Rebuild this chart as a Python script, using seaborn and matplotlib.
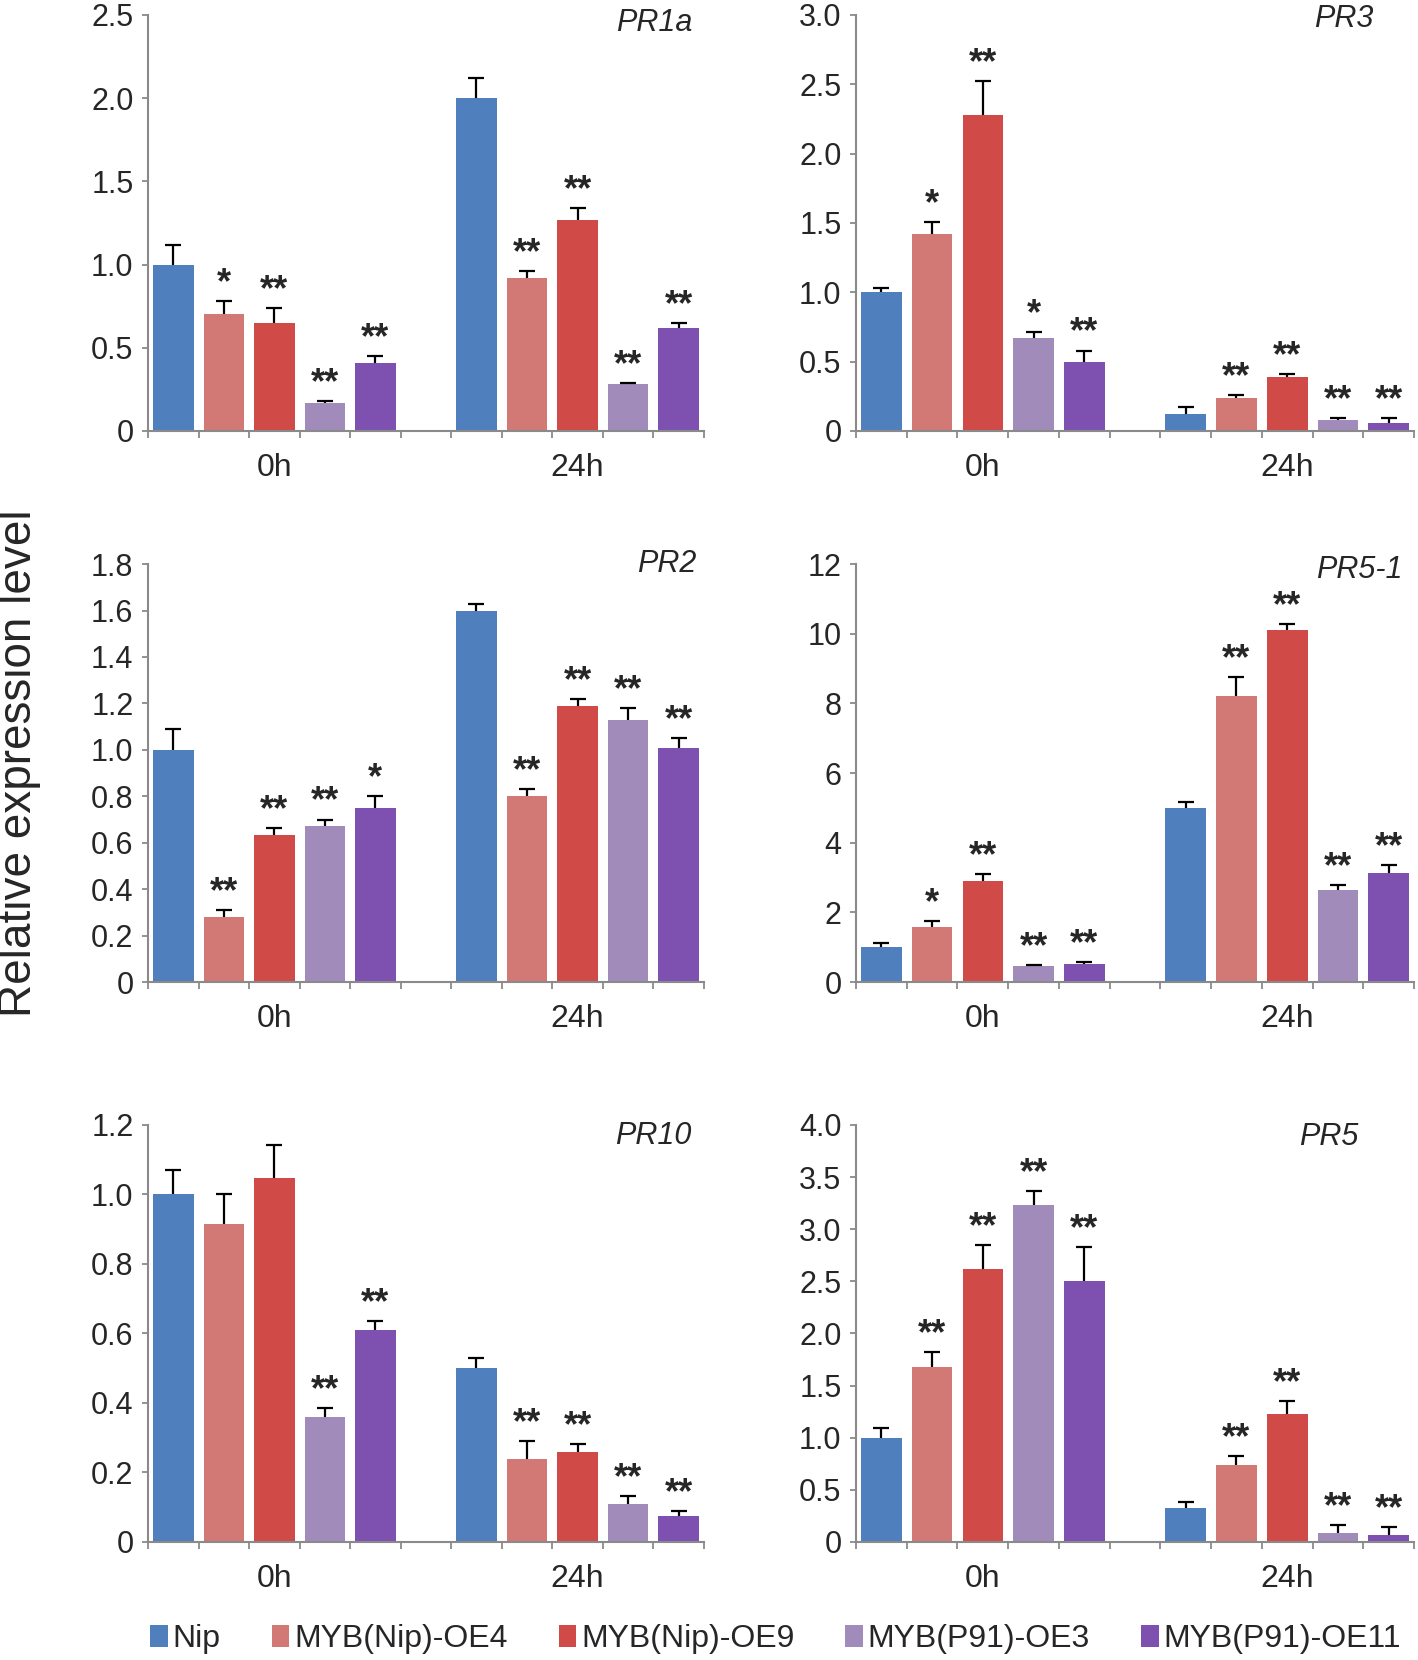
import numpy as np
import pandas as pd
import matplotlib
matplotlib.use("Agg")
import matplotlib.pyplot as plt
import seaborn as sns
from matplotlib.patches import Patch

sns.set_style("ticks")
plt.rcParams['font.family'] = ['Liberation Sans', 'DejaVu Sans']

# linie i czasy
lines = ['Nip', 'MYB(Nip)-OE4', 'MYB(Nip)-OE9', 'MYB(P91)-OE3', 'MYB(P91)-OE11']
colors = ['#4F7FBC', '#D27875', '#D04A47', '#A18BBB', '#7E51B1']
times = ['0h', '24h']

# PR1a
pr1a_mean = [[1.00, 0.70, 0.65, 0.17, 0.41], [2.00, 0.92, 1.27, 0.28, 0.62]]
pr1a_err = [[0.12, 0.08, 0.09, 0.01, 0.04], [0.12, 0.04, 0.07, 0.01, 0.03]]
pr1a_sig = [['', '*', '**', '**', '**'], ['', '**', '**', '**', '**']]
pr1a_ticks = [0, 0.5, 1.0, 1.5, 2.0, 2.5]

# PR3
pr3_mean = [[1.00, 1.42, 2.28, 0.67, 0.50], [0.12, 0.24, 0.39, 0.08, 0.06]]
pr3_err = [[0.03, 0.09, 0.24, 0.04, 0.08], [0.05, 0.02, 0.02, 0.01, 0.03]]
pr3_sig = [['', '*', '**', '*', '**'], ['', '**', '**', '**', '**']]
pr3_ticks = [0, 0.5, 1.0, 1.5, 2.0, 2.5, 3.0]

# PR2
pr2_mean = [[1.00, 0.28, 0.635, 0.67, 0.75], [1.60, 0.80, 1.19, 1.13, 1.01]]
pr2_err = [[0.09, 0.03, 0.03, 0.03, 0.05], [0.03, 0.03, 0.03, 0.05, 0.04]]
pr2_sig = [['', '**', '**', '**', '*'], ['', '**', '**', '**', '**']]
pr2_ticks = [0, 0.2, 0.4, 0.6, 0.8, 1.0, 1.2, 1.4, 1.6, 1.8]

# PR5-1
pr51_mean = [[1.00, 1.57, 2.90, 0.45, 0.53], [5.00, 8.20, 10.12, 2.65, 3.12]]
pr51_err = [[0.12, 0.17, 0.20, 0.03, 0.05], [0.18, 0.55, 0.15, 0.13, 0.25]]
pr51_sig = [['', '*', '**', '**', '**'], ['', '**', '**', '**', '**']]
pr51_ticks = [0, 2, 4, 6, 8, 10, 12]

# PR10
pr10_mean = [[1.00, 0.915, 1.048, 0.36, 0.61], [0.50, 0.24, 0.26, 0.11, 0.075]]
pr10_err = [[0.07, 0.085, 0.095, 0.025, 0.025], [0.03, 0.05, 0.022, 0.022, 0.013]]
pr10_sig = [['', '', '', '**', '**'], ['', '**', '**', '**', '**']]
pr10_ticks = [0, 0.2, 0.4, 0.6, 0.8, 1.0, 1.2]

# PR5
pr5_mean = [[1.00, 1.68, 2.62, 3.23, 2.50], [0.33, 0.74, 1.23, 0.09, 0.07]]
pr5_err = [[0.09, 0.14, 0.23, 0.14, 0.33], [0.05, 0.08, 0.12, 0.07, 0.07]]
pr5_sig = [['', '**', '**', '**', '**'], ['', '**', '**', '**', '**']]
pr5_ticks = [0, 0.5, 1.0, 1.5, 2.0, 2.5, 3.0, 3.5, 4.0]

panele = [
    ('PR1a', pr1a_mean, pr1a_err, pr1a_sig, pr1a_ticks),
    ('PR3', pr3_mean, pr3_err, pr3_sig, pr3_ticks),
    ('PR2', pr2_mean, pr2_err, pr2_sig, pr2_ticks),
    ('PR5-1', pr51_mean, pr51_err, pr51_sig, pr51_ticks),
    ('PR10', pr10_mean, pr10_err, pr10_sig, pr10_ticks),
    ('PR5', pr5_mean, pr5_err, pr5_sig, pr5_ticks),
]

# polozenie osi (ulamki figury)
pozycje = [
    [0.1044, 0.7404, 0.392, 0.2506], [0.6037, 0.7404, 0.3935, 0.2506],
    [0.1044, 0.4084, 0.392, 0.2518], [0.6037, 0.4084, 0.3935, 0.2518],
    [0.1044, 0.0711, 0.392, 0.2512], [0.6037, 0.0711, 0.3935, 0.2512],
]
etykiety_xy = [(0.98, 0.98), (0.928, 0.99), (0.986, 1.0), (0.98, 0.986), (0.978, 0.974), (0.90, 0.97)]

szary = '#8A8A8A'

fig = plt.figure(figsize=(14.18, 16.6), dpi=100)

for (gen, mean, err, sig, yticks), poz, (gx, gy) in zip(panele, pozycje, etykiety_xy):
    ax = fig.add_axes(poz)
    rows = []
    for ti, t in enumerate(times):
        for li, ln in enumerate(lines):
            rows.append({'time': t, 'line': ln, 'mean': mean[ti][li],
                         'err': err[ti][li], 'sig': sig[ti][li]})
    df = pd.DataFrame(rows)

    sns.barplot(data=df, x='time', y='mean', hue='line', order=times, hue_order=lines,
                palette=colors, width=5/6, gap=0.2, saturation=1, errorbar=None,
                legend=False, ax=ax, linewidth=0)

    # slupki bledow (tylko w gore) i gwiazdki
    kontenery = list(ax.containers)
    for li, cont in enumerate(kontenery):
        for bar in cont.patches:
            xc = bar.get_x() + bar.get_width() / 2
            h = bar.get_height()
            ti = int(round(xc))
            wiersz = df[(df['time'] == times[ti]) & (df['line'] == lines[li])].iloc[0]
            e = wiersz['err']
            s = wiersz['sig']
            eb = ax.errorbar(xc, h, yerr=[[0], [e]], fmt='none', ecolor='black',
                             elinewidth=1.6, capsize=5.5, capthick=1.6, zorder=3)
            caps = eb[1]
            if len(caps) == 2:
                caps[0].set_visible(False)
            if s:
                ax.annotate(s, (xc, h + e), xytext=(0, 12.5), textcoords='offset points',
                            ha='center', va='center', fontsize=26, fontweight='bold')

    ax.set_xlim(-5/12, 1 + 5/12)
    ax.set_ylim(yticks[0], yticks[-1])
    ax.set_yticks(yticks)
    ax.set_yticklabels(['0' if v == 0 else (f'{v:g}' if isinstance(v, int) else f'{v:.1f}') for v in yticks])
    ax.set_xticks([0, 1])
    ax.set_xticklabels(times)
    ax.set_xticks(np.arange(12) / 6 - 5/12, minor=True)
    ax.tick_params(axis='x', which='major', length=0, pad=16, labelsize=23)
    ax.tick_params(axis='x', which='minor', length=5, width=1.3, color=szary, direction='out')
    ax.tick_params(axis='y', length=4.5, width=1.3, color=szary, pad=6, labelsize=22)
    ax.set_xlabel('')
    ax.set_ylabel('')
    for sp in ['top', 'right']:
        ax.spines[sp].set_visible(False)
    for sp in ['left', 'bottom']:
        ax.spines[sp].set_color(szary)
        ax.spines[sp].set_linewidth(1.5)
    ax.text(gx, gy, gen, transform=ax.transAxes, ha='right', va='center',
            fontsize=22, fontstyle='italic')

fig.text(0.0134, 0.54, 'Relative expression level', rotation=90, ha='center',
         va='center', fontsize=33)

uchwyty = [Patch(facecolor=c, edgecolor='none') for c in colors]
fig.legend(uchwyty, lines, loc='center', bbox_to_anchor=(0.547, 0.0127), ncol=5,
           frameon=False, fontsize=23, handlelength=0.55, handleheight=0.7,
           handletextpad=0.15, columnspacing=1.6, borderpad=0)

fig.savefig('out.png', dpi=100)
